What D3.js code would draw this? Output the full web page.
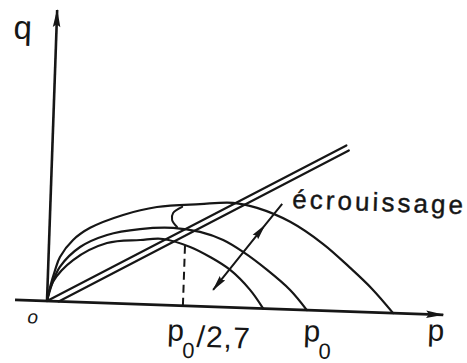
<!DOCTYPE html>
<html>
<head>
<meta charset="utf-8">
<script src="https://cdn.jsdelivr.net/npm/d3@7"></script>
<style>
  html, body { margin: 0; padding: 0; background: #fff; }
  svg { display: block; }
</style>
</head>
<body>
<script>
// Stresses are expressed as fractions of the preconsolidation pressure p0.
// Three yield loci, from the smallest to the largest (hardening).
const smallLocus = [[0,0],[0.020,0.074],[0.095,0.161],[0.223,0.231],[0.350,0.247],[0.438,0.254],
  [0.543,0.227],[0.621,0.191],[0.700,0.144],[0.779,0.070],[0.832,0]];
const middleLocus = [[0,0],[0.017,0.066],[0.045,0.133],[0.120,0.212],[0.222,0.262],[0.348,0.289],
  [0.475,0.298],[0.579,0.286],[0.669,0.258],[0.747,0.215],[0.842,0.149],[0.933,0.075],[1.0,0]];
const largeLocus = [[0,0],[0.010,0.054],[0.027,0.120],[0.044,0.171],[0.092,0.238],[0.156,0.287],
  [0.281,0.341],[0.410,0.376],[0.575,0.393],[0.702,0.402],[0.795,0.386],[0.924,0.337],
  [1.054,0.256],[1.161,0.168],[1.248,0.090],[1.332,0]];

// Critical state line, drawn as a double stroke
const cslUpper = [[0,0],[1.13,0.638]];
const cslLower = [[0.045,0],[1.14,0.619]];

// Vertical marker at p0/2,7 and the hardening arrow
const dashedMarker = [[0.523,0],[0.523,0.245]];
const hardeningArrow = [[0.637,0.065],[0.827,0.320],[0.891,0.405]];
// Small bracket between the two upper loci
const gapBracket = [[0.507,0.380],[0.473,0.355],[0.470,0.328],[0.490,0.302]];

// Axis extents
const pAxisRange = [-0.123, 1.525];
const qAxisRange = [0, 1.12];

// Tick labels on the p axis
const tickValues = [0.523, 1];
const tickSuffix = ["/2,7", ""];
const axisNames = ["p", "q"];
const originLabel = "o";
const hardeningLabel = "écrouissage";

const W = 467, H = 363;
const ink = "#161616";
const font = "'Liberation Sans', Arial, sans-serif";

const svg = d3.select("body").append("svg")
  .attr("width", W).attr("height", H)
  .attr("viewBox", `0 0 ${W} ${H}`);

svg.append("rect").attr("width", W).attr("height", H).attr("fill", "#fff");

const defs = svg.append("defs");
defs.append("marker")
  .attr("id", "axisHead")
  .attr("viewBox", "0 0 20 10")
  .attr("refX", 19).attr("refY", 5)
  .attr("markerWidth", 20).attr("markerHeight", 9)
  .attr("markerUnits", "userSpaceOnUse")
  .attr("orient", "auto-start-reverse")
  .append("path")
  .attr("d", "M0,0.8 L20,5 L0,9.2 L3,5 Z")
  .attr("fill", ink);
defs.append("marker")
  .attr("id", "smallHead")
  .attr("viewBox", "0 0 16 8")
  .attr("refX", 15).attr("refY", 4)
  .attr("markerWidth", 16).attr("markerHeight", 8)
  .attr("markerUnits", "userSpaceOnUse")
  .attr("orient", "auto-start-reverse")
  .append("path")
  .attr("d", "M0,0.5 L16,4 L0,7.5 L2,4 Z")
  .attr("fill", ink);

// The plot frame sits slightly tilted on the page
const g = svg.append("g").attr("transform", "translate(47,301) rotate(2)");

const x = d3.scaleLinear().domain([0, 1]).range([0, 260]);
const y = d3.scaleLinear().domain([0, 1]).range([0, -260]);

const line = d3.line().x(d => x(d[0])).y(d => y(d[1]));
const smooth = d3.line().x(d => x(d[0])).y(d => y(d[1])).curve(d3.curveCatmullRom.alpha(0.5));

// Axes
g.append("path")
  .attr("d", line([[pAxisRange[0], 0], [pAxisRange[1], 0]]))
  .attr("stroke", ink).attr("stroke-width", 2.6).attr("fill", "none")
  .attr("marker-end", "url(#axisHead)");
g.append("path")
  .attr("d", line([[0, qAxisRange[0]], [0, qAxisRange[1]]]))
  .attr("stroke", ink).attr("stroke-width", 2.6).attr("fill", "none")
  .attr("marker-end", "url(#axisHead)");

// Yield loci
[smallLocus, middleLocus, largeLocus].forEach(locus => {
  g.append("path")
    .attr("d", smooth(locus))
    .attr("stroke", ink).attr("stroke-width", 2.2).attr("fill", "none")
    .attr("stroke-linecap", "round");
});

// Critical state line
[cslUpper, cslLower].forEach(seg => {
  g.append("path")
    .attr("d", line(seg))
    .attr("stroke", ink).attr("stroke-width", 2.2).attr("fill", "none")
    .attr("stroke-linecap", "round");
});

// Dashed marker
g.append("path")
  .attr("d", line(dashedMarker))
  .attr("stroke", ink).attr("stroke-width", 2).attr("fill", "none")
  .attr("stroke-dasharray", "8,5");

// Bracket
g.append("path")
  .attr("d", smooth(gapBracket))
  .attr("stroke", ink).attr("stroke-width", 2).attr("fill", "none")
  .attr("stroke-linecap", "round");

// Hardening arrow
g.append("path")
  .attr("d", line(hardeningArrow))
  .attr("stroke", ink).attr("stroke-width", 2).attr("fill", "none")
  .attr("marker-start", "url(#smallHead)")
  .attr("marker-mid", "url(#smallHead)");

// Labels
const txt = (sel) => sel.attr("fill", ink).attr("font-family", font);

txt(g.append("text"))
  .attr("x", -43).attr("y", y(qAxisRange[1]) + 30)
  .attr("font-size", 33)
  .text(axisNames[1]);

txt(g.append("text"))
  .attr("x", x(pAxisRange[1]) - 15).attr("y", 26)
  .attr("font-size", 30)
  .text(axisNames[0]);

txt(g.append("text"))
  .attr("x", -19).attr("y", 23)
  .attr("font-size", 19).attr("font-style", "italic")
  .text(originLabel);

const tickOffsets = [{dx: -14.6, base: 35}, {dx: -2.6, base: 31}];
tickValues.forEach((v, i) => {
  const x0 = x(v) + tickOffsets[i].dx, b = tickOffsets[i].base;
  txt(g.append("text")).attr("x", x0).attr("y", b).attr("font-size", 30).text("p");
  txt(g.append("text")).attr("x", x0 + 15.6).attr("y", b + 17).attr("font-size", 22).text("0");
  if (tickSuffix[i]) {
    txt(g.append("text")).attr("x", x0 + 29.5).attr("y", b + 5.5)
      .attr("font-size", 30).attr("textLength", 53).text(tickSuffix[i]);
  }
});

txt(g.append("text"))
  .attr("x", 241.5).attr("y", -101.5)
  .attr("font-size", 26)
  .attr("textLength", 171)
  .attr("stroke", ink).attr("stroke-width", 0.4)
  .text(hardeningLabel);
</script>
</body>
</html>
